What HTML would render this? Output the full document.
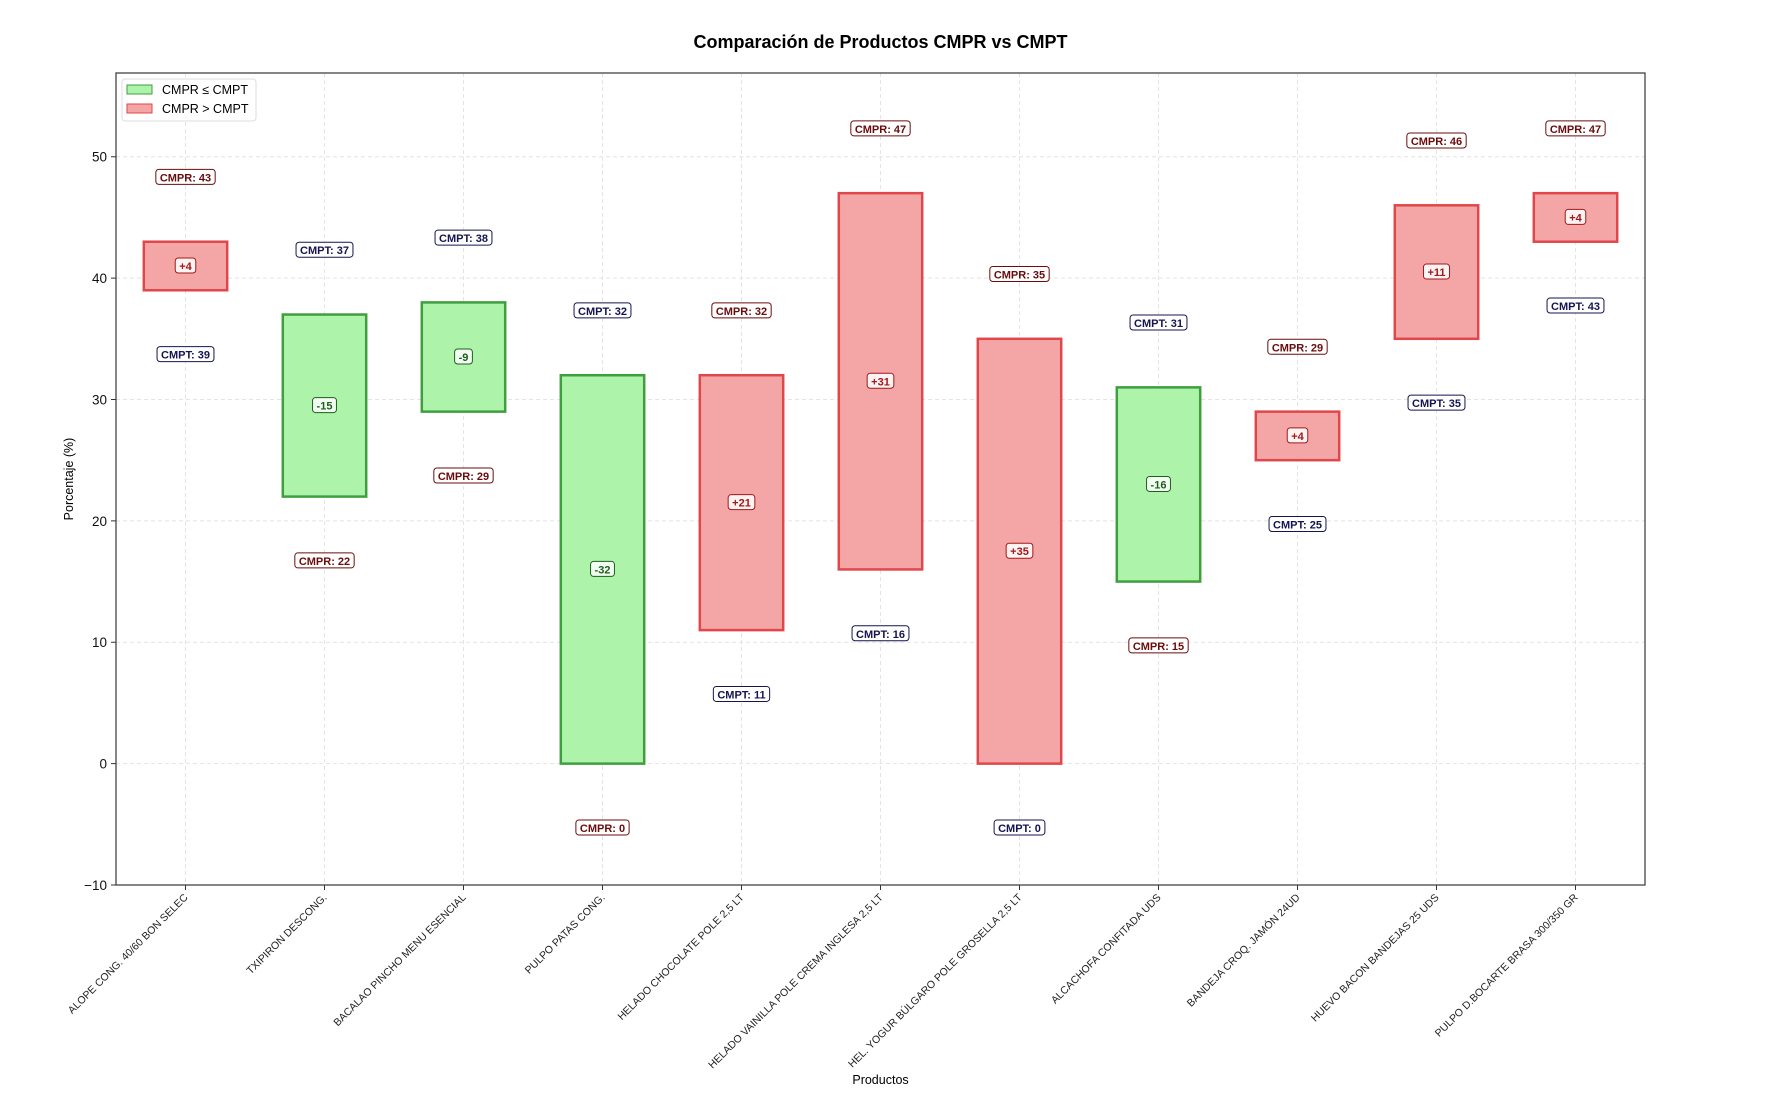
<!DOCTYPE html>
<html><head><meta charset="utf-8"><style>
body{margin:0;background:#fff}
svg text{font-family:"Liberation Sans","DejaVu Sans",sans-serif}
</style></head><body>
<svg id="c" width="1777" height="1113" xmlns="http://www.w3.org/2000/svg"></svg>
<script>
const categories=["ALOPE CONG. 40/60 BON SELEC","TXIPIRON DESCONG.","BACALAO PINCHO MENU ESENCIAL","PULPO PATAS CONG.","HELADO CHOCOLATE POLE 2,5 LT","HELADO VAINILLA POLE CREMA INGLESA 2,5 LT","HEL. YOGUR BÚLGARO POLE GROSELLA 2,5 LT","ALCACHOFA CONFITADA UDS","BANDEJA CROQ. JAMÓN 24UD","HUEVO BACON BANDEJAS 25 UDS","PULPO D.BOCARTE BRASA 300/350 GR"];
const cmpr=[43,22,29,0,32,47,35,15,29,46,47];
const cmpt=[39,37,38,32,11,16,0,31,25,35,43];
const yTicks=[-10,0,10,20,30,40,50];
const NS="http://www.w3.org/2000/svg";
const svg=document.getElementById('c');
const L=116,R=1645,T=73,B=885,yMin=-10,yMax=56.9;
const x=i=>L+(i+0.5)/categories.length*(R-L);
const y=v=>B-(v-yMin)/(yMax-yMin)*(B-T);
const bw=0.6*(R-L)/categories.length;
function el(t,a,p){const e=document.createElementNS(NS,t);for(const k in a)e.setAttribute(k,a[k]);(p||svg).appendChild(e);return e;}
function txt(s,a,p){const e=el('text',a,p);e.textContent=s;return e;}
yTicks.forEach(v=>{const g=el('line',{x1:L,x2:R,y1:y(v),y2:y(v),stroke:'#e4e4e4','stroke-dasharray':'4,3'});

});
categories.forEach((c,i)=>{const g=el('line',{x1:x(i),x2:x(i),y1:T,y2:B,stroke:'#e4e4e4','stroke-dasharray':'4,3'});

});
const ti=txt('Comparación de Productos CMPR vs CMPT',{x:(L+R)/2,y:48,'text-anchor':'middle','font-size':18,'font-weight':'bold'});


function label(s,cx,cy,col,p){
  const g=el('g',{},p);
  const t=txt(s,{x:cx,y:cy+4,'text-anchor':'middle','font-size':11,'font-weight':'bold',fill:col},g);
  const w=t.getComputedTextLength()+8;
  const r=el('rect',{x:cx-w/2,y:cy-8,width:w,height:15,rx:3,fill:'#fff','fill-opacity':0.85,stroke:col,'stroke-width':1},g);
  g.insertBefore(r,t);return g;
}
categories.forEach((c,i)=>{
  const hi=Math.max(cmpr[i],cmpt[i]),lo=Math.min(cmpr[i],cmpt[i]);
  const red=cmpr[i]>cmpt[i];
  const g=el('g',{});
  
  
  el('rect',{x:x(i)-bw/2,y:y(hi),width:bw,height:y(lo)-y(hi),fill:red?'#f4a6a6':'#adf3a9',stroke:red?'#e0474a':'#3f9f3f','stroke-width':2.5},g);
  const d=cmpr[i]-cmpt[i];
  const dl=label((d>0?'+':'')+d,x(i),y((hi+lo)/2),red?'#a01818':'#1e5e1e',g);
  
  
  const l1=label((red?'CMPR: ':'CMPT: ')+hi,x(i),y(hi+5.3),red?'#6b0c0c':'#141450',g);
  
  
  const l2=label((red?'CMPT: ':'CMPR: ')+lo,x(i),y(lo-5.3),red?'#141450':'#6b0c0c',g);
  
  
  el('line',{x1:x(i),x2:x(i),y1:B,y2:B+5,stroke:'#333'});
  const xl=txt(c,{x:0,y:0,'text-anchor':'end','font-size':10.5,fill:'#222',transform:`translate(${x(i)+3},${B+13}) rotate(-45)`});
  
  
});
const fr=el('rect',{x:L,y:T,width:R-L,height:B-T,fill:'none',stroke:'#444','stroke-width':1.3});


yTicks.forEach(v=>{el('line',{x1:L-5,x2:L,y1:y(v),y2:y(v),stroke:'#333'});
const t=txt(v<0?'−'+(-v):String(v),{x:L-9,y:y(v)+5,'text-anchor':'end','font-size':13.5,fill:'#111'});

});
const yl=txt('Porcentaje (%)',{x:0,y:0,'text-anchor':'middle','font-size':12.5,transform:`translate(73,${(T+B)/2}) rotate(-90)`});


const xl=txt('Productos',{x:(L+R)/2,y:1084,'text-anchor':'middle','font-size':12.5});


const lg=el('g',{});


el('rect',{x:122,y:79,width:134,height:42,rx:3,fill:'#fff','fill-opacity':0.8,stroke:'#ddd'},lg);
el('rect',{x:127,y:85,width:25,height:9,fill:'#adf3a9',stroke:'#3f9f3f'},lg);
el('rect',{x:127,y:104,width:25,height:9,fill:'#f4a6a6',stroke:'#e0474a'},lg);
const e1=txt('CMPR ≤ CMPT',{x:162,y:94,'font-size':12.5},lg);


const e2=txt('CMPR > CMPT',{x:162,y:113,'font-size':12.5},lg);


</script>
</body></html>
